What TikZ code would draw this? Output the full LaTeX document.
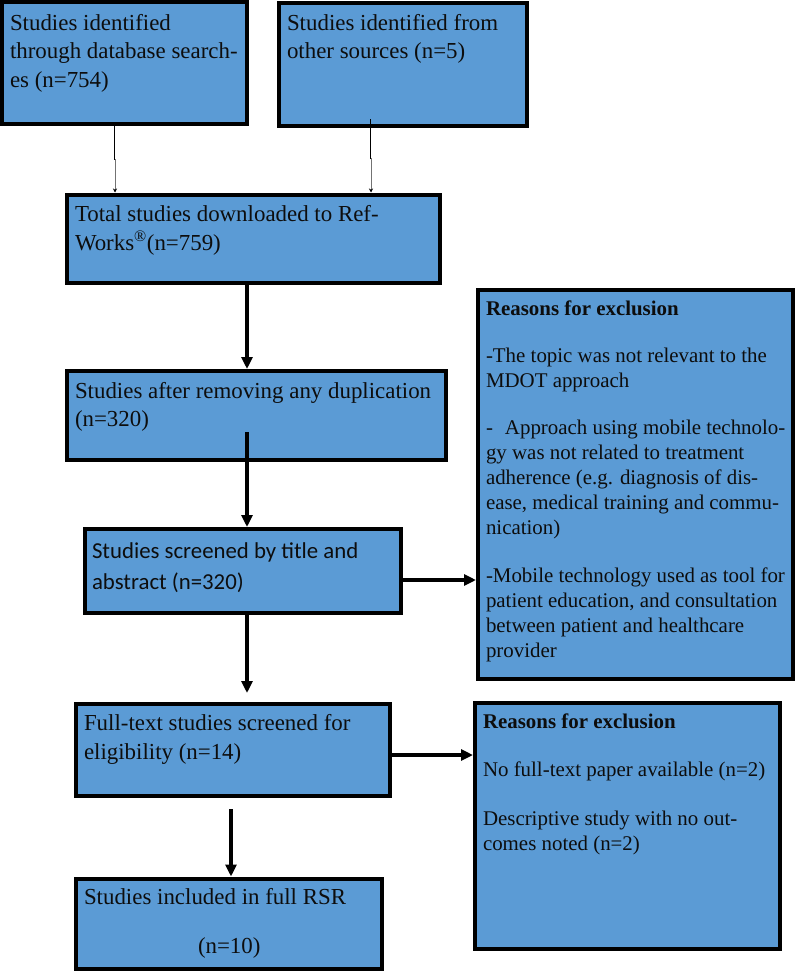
\documentclass[tikz,border=0pt]{standalone}
\usepackage{fontspec}
\setmainfont{Liberation Serif}
\newfontfamily\calfont{Carlito}
\usetikzlibrary{arrows.meta,calc}
\definecolor{boxblue}{RGB}{91,155,213}
\begin{document}
\begin{tikzpicture}[x=1pt,y=-1pt,
  boxshape/.style={draw=black, line width=4pt, fill=boxblue, inner sep=0pt, anchor=north west},
  txt/.style={anchor=north west, inner sep=0pt, outer sep=0pt, align=left, text=black!95,
    font=\fontsize{22.9}{28.4}\selectfont},
  caltxt/.style={txt, font=\calfont\fontsize{22.8}{31.7}\selectfont},
  rtxt/.style={txt, font=\fontsize{20.9}{25}\selectfont},
  bigarrow/.style={line width=3.5pt, -{Triangle[length=12pt,width=11pt]}},
  thinline/.style={line width=1pt, black},
  thinarrow/.style={line width=1pt, black!55, -{Stealth[length=4pt,width=4pt,color=black]}}
]
\useasboundingbox (0,0) rectangle (795,972);

% boxes
\node[boxshape, minimum width=245pt, minimum height=122pt] (b1) at (0,0) {};
\node[boxshape, minimum width=248pt, minimum height=123.5pt] (b2) at (276.5,0.5) {};
\node[boxshape, minimum width=373pt, minimum height=88.5pt] (b3) at (64.5,192.5) {};
\node[boxshape, minimum width=379pt, minimum height=88.5pt] (b4) at (64.5,369) {};
\node[boxshape, minimum width=316pt, minimum height=84pt] (b5) at (82.5,527) {};
\node[boxshape, minimum width=313.5pt, minimum height=92.5pt] (b6) at (74,701.5) {};
\node[boxshape, minimum width=305.5pt, minimum height=90.5pt] (b7) at (74,876.5) {};
\node[boxshape, minimum width=315pt, minimum height=388.5pt] (r1) at (476,288) {};
\node[boxshape, minimum width=304.5pt, minimum height=246pt] (r2) at (473,701) {};

% texts
\node[txt] (t1) at (10,10.6) {\strut Studies identified\\through database search-\\es (n=754)};
\node[txt] (t2) at (287,10.6) {\strut Studies identified from\\other sources (n=5)};
\node[txt] (t3) at (75,201.8) {\strut Total studies downloaded to Ref-\\Works\textsuperscript{\textregistered}(n=759)};
\node[txt] (t4) at (75,378.4) {\strut Studies after removing any duplication\\(n=320)};
\node[caltxt] (t5) at (92,536.1) {\strut Studies screened by title and\\abstract (n=320)};
\node[txt] (t6) at (84,711.1) {\strut Full-text studies screened for\\[0.6pt]eligibility (n=14)};
\node[txt] (t7) at (84,885.1) {\strut Studies included in full RSR\\[20pt]\hspace*{114pt}(n=10)};
\node[rtxt] (rt1) at (486,297.5) {\strut\textbf{Reasons for exclusion}\\[22pt]
  -The topic was not relevant to the\\MDOT approach\\[22pt]
  -\hspace*{12pt}Approach using mobile technolo-\\gy was not related to treatment\\adherence (e.g. diagnosis of dis-\\ease, medical training and commu-\\nication)\\[23pt]
  -Mobile technology used as tool for\\patient education, and consultation\\between patient and healthcare\\provider};
\node[rtxt] (rt2) at (483,710.8) {\strut\textbf{Reasons for exclusion}\\[23pt]
  No full-text paper available (n=2)\\[24pt]
  Descriptive study with no out-\\comes noted (n=2)};

% helper coordinates
\coordinate (a1s) at (114,122);
\coordinate (a1k) at (114,159);
\coordinate (a1j) at (115,159);
\coordinate (a2s) at (370,119);
\coordinate (a2k) at (370,158);
\coordinate (a2j) at (371,158);
\coordinate (x247) at (247,0);
\coordinate (a4s) at (247,432);
\coordinate (a6e) at (247,693);
\coordinate (a7s) at (231,809);
\coordinate (y580) at (0,580);
\coordinate (y755) at (0,755);

% connectors
\draw[thinline] (a1s) -- (a1k) -- (a1j);
\draw[thinarrow] (a1j) -- (a1j |- b3.north);
\draw[thinline] (a2s) -- (a2k) -- (a2j);
\draw[thinarrow] (a2j) -- (a2j |- b3.north);
\draw[bigarrow] (b3.south -| x247) -- (b4.north -| x247);
\draw[bigarrow] (a4s) -- (a4s |- b5.north);
\draw[bigarrow] (b5.east |- y580) -- (r1.west |- y580);
\draw[bigarrow] (b5.south -| x247) -- (a6e);
\draw[bigarrow] (a7s) -- (a7s |- b7.north);
\draw[bigarrow] (b6.east |- y755) -- (r2.west |- y755);
\end{tikzpicture}
\end{document}
